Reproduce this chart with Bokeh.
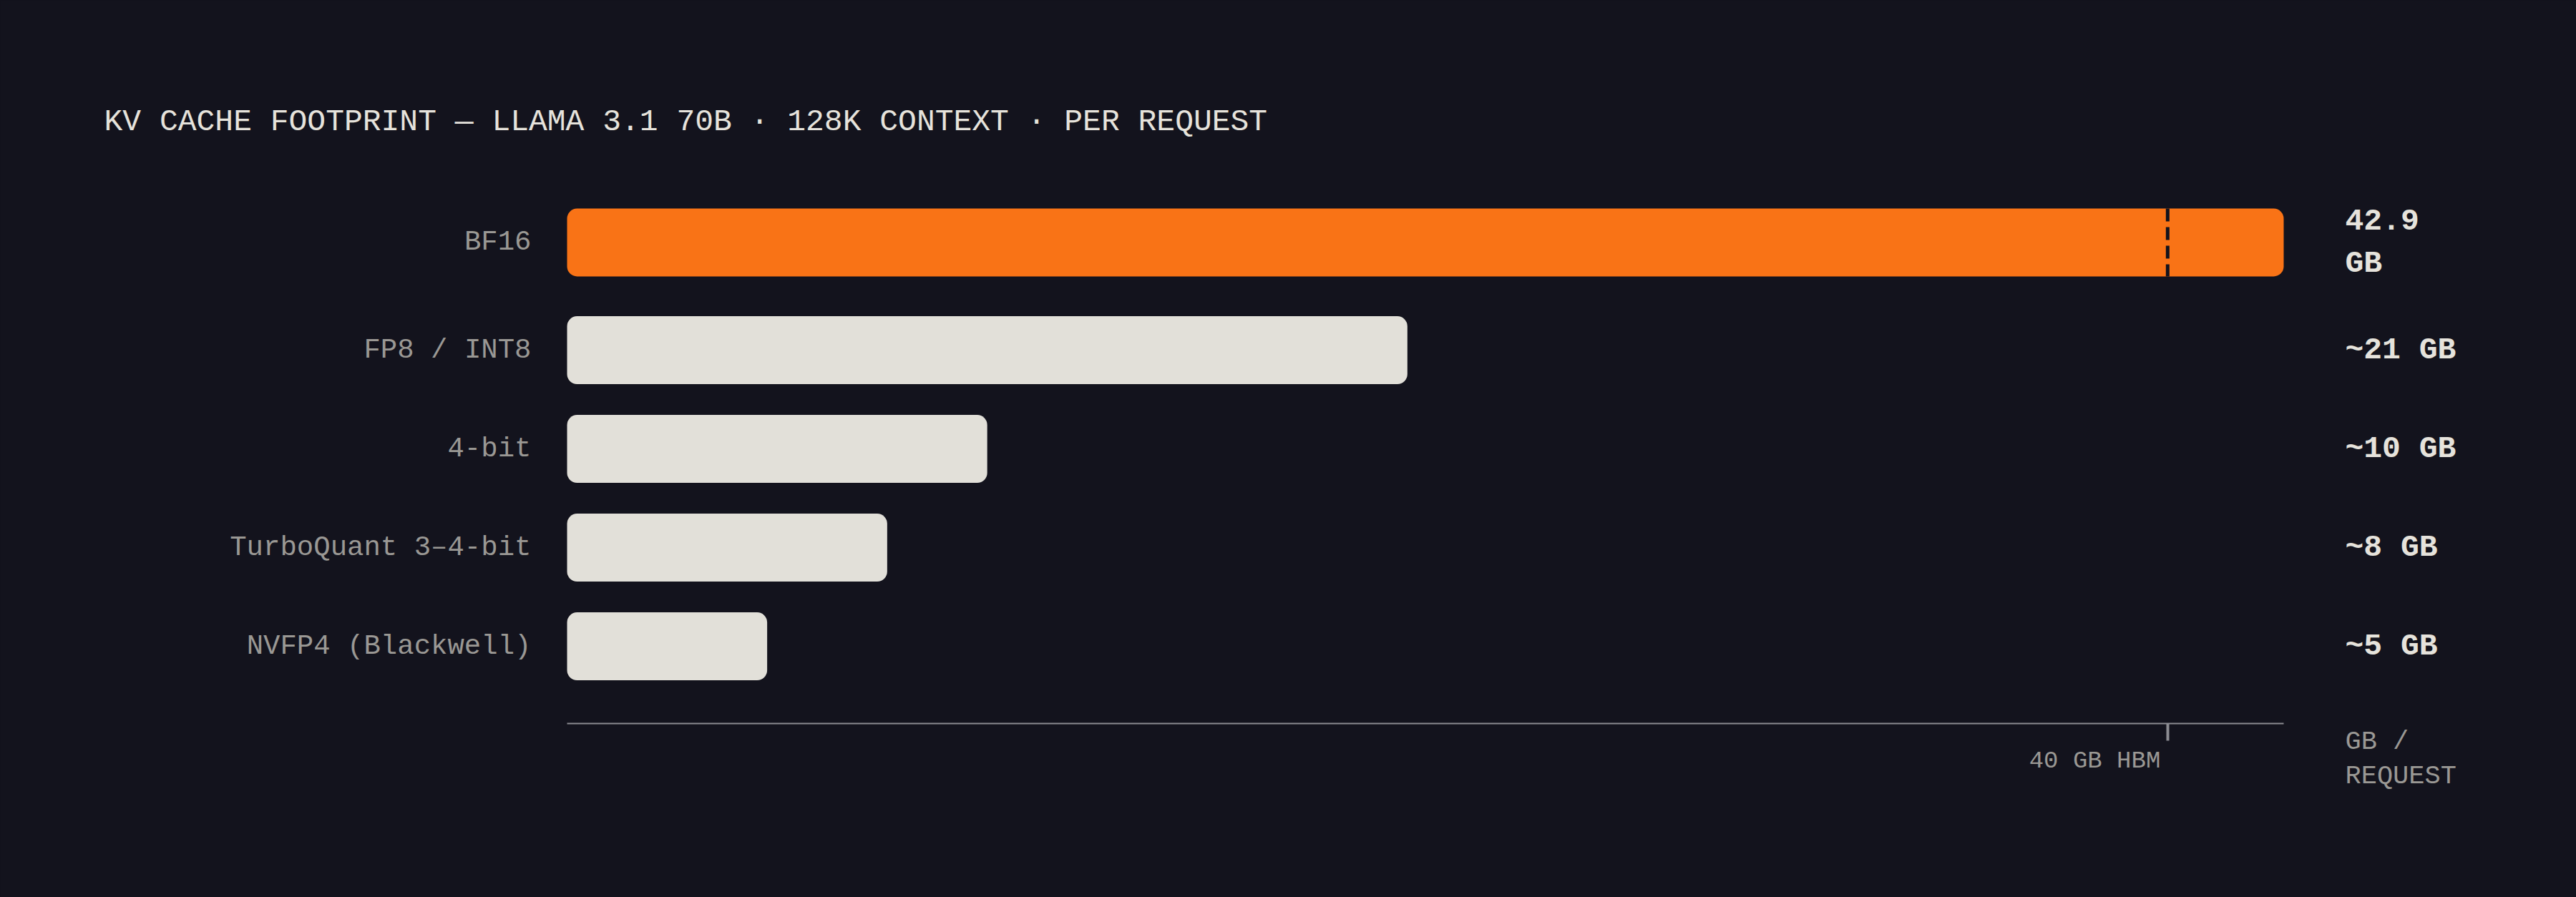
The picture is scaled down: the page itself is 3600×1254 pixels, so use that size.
from bokeh.plotting import figure
from bokeh.models import (Range1d, ColumnDataSource, Label, LabelSet,
                          FixedTicker, LinearAxis)
from bokeh.core.properties import value
from bokeh.embed import file_html
from bokeh.resources import INLINE

# ---------------- data ----------------
title_text = "KV CACHE FOOTPRINT — LLAMA 3.1 70B · 128K CONTEXT · PER REQUEST"
categories = ["BF16", "FP8 / INT8", "4-bit", "TurboQuant 3–4-bit", "NVFP4 (Blackwell)"]
values_gb = [42.9, 21.0, 10.5, 8.0, 5.0]
value_labels = ["42.9 GB", "~21 GB", "~10 GB", "~8 GB", "~5 GB"]
highlight = "BF16"
hbm_capacity = 40
hbm_label = "40 GB HBM"
unit_label = "GB / REQUEST"

# ---------------- style ----------------
BG = "#13131d"
ORANGE = "#f97316"
LIGHT = "#e2e0d9"
TEXT_LIGHT = "#e6e3dc"
TEXT_GRAY = "#9a9894"
AXIS_GRAY = "#8c8c92"
FONT = "Liberation Mono"

# ---------------- layout ----------------
FIG_W, FIG_H = 3600, 1254
BAR_LEFT_PX, BAR_RIGHT_PX = 792, 3191   # pixel span of the value scale
ROW0_PX, PITCH_PX = 338.5, 138.0        # first row centre, row pitch

# row layout (in units of one row pitch): a row is as tall as its bar or
# its wrapped value label, whichever is taller; rows are separated by GAP
BAR_H = 0.688
LINE_H = 0.435
GAP = 0.312
PAD = 0.779      # last row centre -> axis line

# value labels wrap in a narrow column (max 6 characters per line)
shown_labels = [s.replace(" ", "\n") if len(s) > 6 else s for s in value_labels]
n_lines = [s.count("\n") + 1 for s in shown_labels]
row_h = [max(BAR_H, n * LINE_H) for n in n_lines]
rows = [0.0]
for i in range(1, len(categories)):
    rows.append(rows[-1] + (row_h[i - 1] + row_h[i]) / 2 + GAP)

vmax = max(values_gb)
px_per_gb = (BAR_RIGHT_PX - BAR_LEFT_PX) / vmax
x_start = -BAR_LEFT_PX / px_per_gb
x_end = vmax + (FIG_W - BAR_RIGHT_PX) / px_per_gb
y_top = -ROW0_PX / PITCH_PX
y_bottom = y_top + FIG_H / PITCH_PX
axis_y = rows[-1] + PAD

src = ColumnDataSource(dict(
    y=rows,
    cat=categories,
    value=values_gb,
    label=shown_labels,
    color=[ORANGE if c == highlight else LIGHT for c in categories],
))
over = [i for i, v in enumerate(values_gb) if v > hbm_capacity]
src_over = ColumnDataSource(dict(
    y0=[rows[i] - BAR_H / 2 for i in over],
    y1=[rows[i] + BAR_H / 2 for i in over],
))

p = figure(
    width=FIG_W, height=FIG_H,
    x_range=Range1d(x_start, x_end),
    y_range=Range1d(y_bottom, y_top),
    output_backend="svg", toolbar_location=None,
    x_axis_location=None, y_axis_location=None,
    min_border=0,
    background_fill_color=BG, border_fill_color=BG,
    outline_line_color=None,
)
p.grid.visible = False

p.hbar(y="y", left=0, right="value", height=BAR_H, fill_color="color",
       line_color=None, border_radius=14, source=src)

# HBM capacity marker across bars that exceed it
p.segment(x0=hbm_capacity, x1=hbm_capacity, y0="y0", y1="y1",
          line_color=BG, line_width=5, line_dash="18 8", source=src_over)

# value axis: a line under the bars with a single tick at the HBM capacity
ax = LinearAxis(
    fixed_location=axis_y, bounds=(0, vmax),
    ticker=FixedTicker(ticks=[hbm_capacity]),
    axis_line_color=AXIS_GRAY, axis_line_width=2,
    major_tick_line_color=AXIS_GRAY, major_tick_line_width=4,
    major_tick_out=24, major_tick_in=0,
    minor_tick_line_color=None,
    major_label_text_color=None,
)
p.add_layout(ax, "below")

# category labels, right-aligned just left of the bar start
p.add_layout(LabelSet(x=0, y="y", text="cat", source=src, x_offset=-50,
                      text_align="right", text_baseline="middle",
                      text_font=value(FONT), text_font_size="39px",
                      text_color=TEXT_GRAY))

# value labels in a fixed column right of the bars
p.add_layout(LabelSet(x=vmax, y="y", text="label", source=src, x_offset=86,
                      text_align="left", text_baseline="middle",
                      text_font=value(FONT), text_font_size="43px",
                      text_font_style="bold", text_line_height=1.22,
                      text_color=TEXT_LIGHT))

# title
p.add_layout(Label(x=0, y=rows[0], text=title_text, x_offset=-647,
                   y_offset=168.5, text_align="left",
                   text_baseline="alphabetic", text_font=FONT,
                   text_font_size="43px", text_color=TEXT_LIGHT))

# tick label of the HBM capacity, right-aligned left of its tick
p.add_layout(Label(x=hbm_capacity, y=axis_y, text=hbm_label, x_offset=-10,
                   y_offset=-53, text_align="right",
                   text_baseline="alphabetic", text_font=FONT,
                   text_font_size="34px", text_color=TEXT_GRAY))

# unit label
p.add_layout(Label(x=vmax, y=axis_y, text=unit_label.replace("/ ", "/\n"),
                   x_offset=86, y_offset=-5, text_align="left",
                   text_baseline="top", text_font=FONT,
                   text_font_size="37px", text_line_height=1.13,
                   text_color=TEXT_GRAY))

html = file_html(p, INLINE, title="KV cache footprint")
html = html.replace("<head>", "<head><style>html,body{background:%s;}</style>" % BG, 1)
open("out.html", "w").write(html)
